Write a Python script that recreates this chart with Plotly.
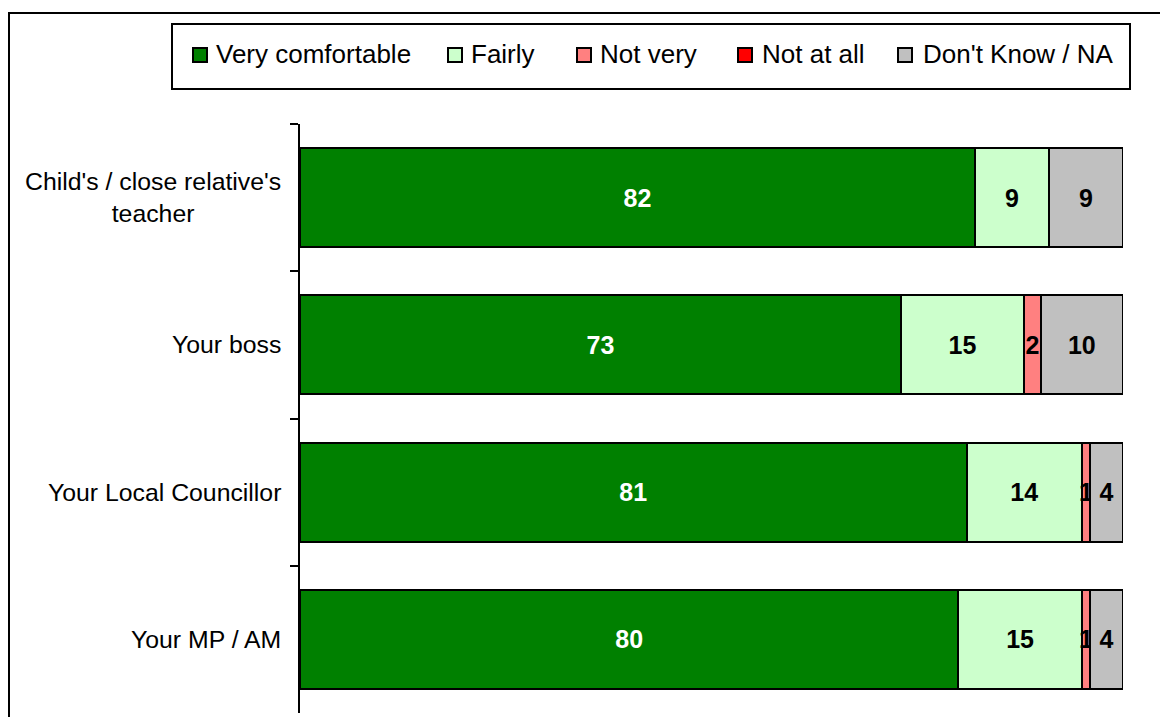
import plotly.graph_objects as go

# ---- data ----
categories = ["Child's / close relative's<br>teacher", "Your boss", "Your Local Councillor", "Your MP / AM"]
series_names = ["Very comfortable", "Fairly", "Not very", "Not at all", "Don't Know / NA"]
very_comfortable = [82, 73, 81, 80]
fairly = [9, 15, 14, 15]
not_very = [0, 2, 1, 1]
not_at_all = [0, 0, 0, 0]
dont_know = [9, 10, 4, 4]

series_values = [very_comfortable, fairly, not_very, not_at_all, dont_know]
colors = ["#008000", "#CCFFCC", "#FF8080", "#FF0000", "#C0C0C0"]
text_colors = ["white", "black", "black", "black", "black"]

W, H = 1160, 717
L, R, T, B = 300, 37, 124, 4
PW, PH = W - L - R, H - T - B
FONT = "Liberation Sans, Arial, sans-serif"


def px_x(px):
    return (px - L) / PW


def px_y(py):
    return (H - B - py) / PH


fig = go.Figure()
for name, vals, col, tcol in zip(series_names, series_values, colors, text_colors):
    fig.add_trace(go.Bar(
        name=name,
        y=categories,
        x=vals,
        orientation="h",
        marker=dict(color=col, line=dict(color="black", width=2)),
        text=[str(v) if v > 0 else "" for v in vals],
        textposition="inside",
        insidetextanchor="middle",
        textangle=0,
        constraintext="none",
        textfont=dict(family=FONT, size=25, color=tcol, weight="bold"),
        showlegend=False,
        hoverinfo="x+name",
    ))

shapes = []
annotations = []

# outer frame
shapes.append(dict(type="rect", xref="paper", yref="paper",
                   x0=px_x(9), x1=px_x(1162), y0=px_y(722), y1=px_y(13),
                   line=dict(color="black", width=2), fillcolor="rgba(0,0,0,0)", layer="above"))
# legend box
shapes.append(dict(type="rect", xref="paper", yref="paper",
                   x0=px_x(172), x1=px_x(1130), y0=px_y(89), y1=px_y(24),
                   line=dict(color="black", width=2), fillcolor="white", layer="above"))

legend_sq_left = [192, 447, 576, 737, 897]
legend_text_left = [214, 469, 598, 760, 921]
for name, col, sx, tx in zip(series_names, colors, legend_sq_left, legend_text_left):
    shapes.append(dict(type="rect", xref="paper", yref="paper",
                       x0=px_x(sx + 1), x1=px_x(sx + 15), y0=px_y(62), y1=px_y(48),
                       line=dict(color="black", width=2), fillcolor=col, layer="above"))
    annotations.append(dict(xref="paper", yref="paper", x=px_x(tx), y=px_y(54.5),
                            xanchor="left", yanchor="middle", showarrow=False, text=name,
                            font=dict(family=FONT, size=26, color="black")))

# category labels (centred multi-line, like the original)
for cat in categories:
    annotations.append(dict(xref="paper", yref="y", x=0, y=cat, xanchor="right", yanchor="middle",
                            xshift=-17, showarrow=False, text=cat, align="center",
                            font=dict(family=FONT, size=24.8, color="black")))

fig.update_layout(
    width=W, height=H,
    margin=dict(l=L, r=R, t=T, b=B, pad=0),
    barmode="stack",
    bargap=0.328,
    plot_bgcolor="white",
    paper_bgcolor="white",
    uniformtext=dict(minsize=25, mode="show"),
    xaxis=dict(range=[0, 100], visible=False, fixedrange=True),
    yaxis=dict(type="category", categoryorder="array", categoryarray=categories,
               range=[3.5, -0.5], tickson="boundaries", ticks="outside", ticklen=8,
               tickwidth=2, tickcolor="black", showline=True, linewidth=2, linecolor="black",
               showticklabels=False, showgrid=False, zeroline=False, fixedrange=True),
    shapes=shapes,
    annotations=annotations,
    font=dict(family=FONT, color="black"),
)

fig.write_html("out.html")
